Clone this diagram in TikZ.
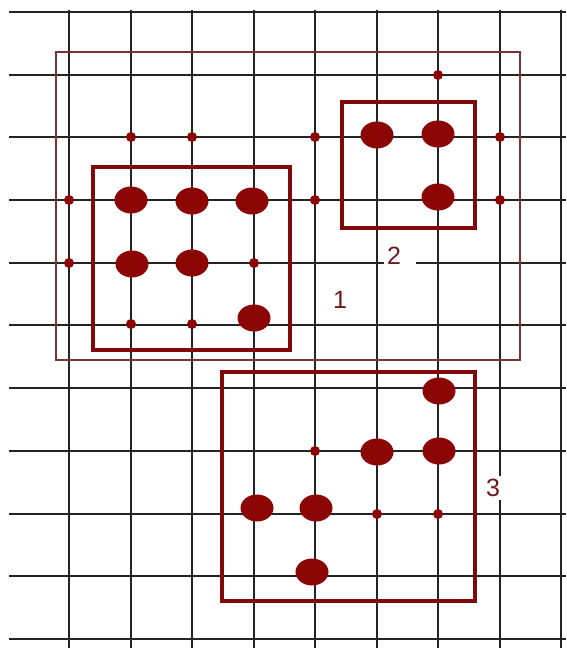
\documentclass[tikz,border=0pt]{standalone}
\usepackage{fontspec}
\setsansfont{Liberation Sans}
\usepackage{tikz}
\usetikzlibrary{shapes.geometric}

\definecolor{dotred}{RGB}{139,5,5}
\definecolor{boxred}{RGB}{128,10,10}
\definecolor{framered}{RGB}{118,52,52}
\definecolor{gridgray}{RGB}{35,35,35}
\definecolor{labelred}{RGB}{110,25,25}

\tikzset{
  gridline/.style={gridgray, line width=2pt},
  bigdot/.style={ellipse, fill=dotred, minimum width=33pt, minimum height=27pt, inner sep=0pt},
  smalldot/.style={circle, fill=dotred, minimum size=10pt, inner sep=0pt},
  groupbox/.style={boxred, line width=3.4pt},
  outerbox/.style={framered, line width=1.8pt},
  grouplabel/.style={fill=white, text=labelred, font=\sffamily\fontsize{25}{28}\selectfont, inner sep=3pt}
}

\begin{document}
\begin{tikzpicture}[x=1pt,y=-1pt]
    \useasboundingbox[fill=white] (0,0) rectangle (566,648);

    % grid
    \foreach \gx in {69,131,192,254,315,377,438,500,561}
        \draw[gridline] (\gx,10) -- (\gx,648);
    \foreach \gy in {12,75,137,200,263,325,388,451,514,576,639}
        \draw[gridline] (9,\gy) -- (566,\gy);

    % groups
    \draw[outerbox] (56,52) rectangle (520,360);
    \draw[groupbox] (93,167) rectangle (290,350);
    \draw[groupbox] (342,102) rectangle (475,228);
    \draw[groupbox] (222,372) rectangle (475,601);

    % small points
    \node[smalldot] (p61) at (438,75) {};
    \node[smalldot] (p12) at (131,137) {};
    \node[smalldot] (p22) at (192,137) {};
    \node[smalldot] (p42) at (315,137) {};
    \node[smalldot] (p72) at (500,137) {};
    \node[smalldot] (p03) at (69,200) {};
    \node[smalldot] (p43) at (315,200) {};
    \node[smalldot] (p73) at (500,200) {};
    \node[smalldot] (p04) at (69,263) {};
    \node[smalldot] (p34) at (254,263) {};
    \node[smalldot] (p15) at (131,324) {};
    \node[smalldot] (p25) at (192,324) {};
    \node[smalldot] (p47) at (315,451) {};
    \node[smalldot] (p58) at (377,514) {};
    \node[smalldot] (p68) at (438,514) {};

    % large points
    \node[bigdot] (q52) at (377,135) {};
    \node[bigdot] (q62) at (438,134) {};
    \node[bigdot] (q63) at (438,197) {};
    \node[bigdot] (q13) at (131,200) {};
    \node[bigdot] (q23) at (192,201) {};
    \node[bigdot] (q33) at (252,201) {};
    \node[bigdot] (q14) at (132,264) {};
    \node[bigdot] (q24) at (192,263) {};
    \node[bigdot] (q35) at (254,318) {};
    \node[bigdot] (q66) at (439,391) {};
    \node[bigdot] (q57) at (377,452) {};
    \node[bigdot] (q67) at (439,451) {};
    \node[bigdot] (q38) at (257,508) {};
    \node[bigdot] (q48) at (316,508) {};
    \node[bigdot] (q49) at (312,572) {};

    % labels
    \node[grouplabel, fill=none] (lab1) at (340,300) {1};
    \node[grouplabel, anchor=west, text width=26pt, inner xsep=3pt] (lab2) at (384,256) {2};
    \node[grouplabel] (lab3) at (493,488) {3};
\end{tikzpicture}
\end{document}
